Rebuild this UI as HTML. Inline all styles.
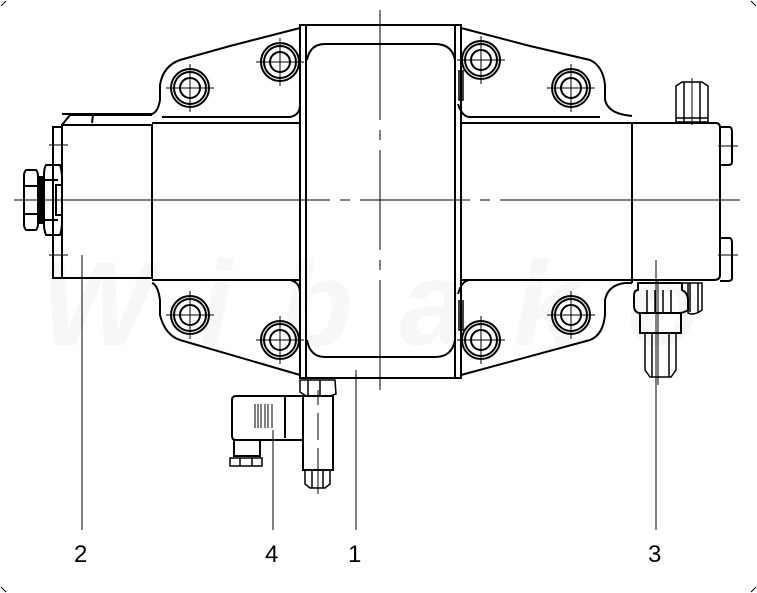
<!DOCTYPE html>
<html><head><style>body{margin:0;background:#fff}svg{display:block}</style></head><body>
<svg width="757" height="593" viewBox="0 0 757 593" xmlns="http://www.w3.org/2000/svg" fill="none" stroke="#000" stroke-width="2" font-family="Liberation Sans, sans-serif">
<path d="M1 6 L6 1 M751 1 L756 6 M1 587 L6 592 M751 592 L756 587" stroke-width="1"/>
<text x="40" y="345" font-size="120" font-weight="bold" font-style="italic" fill="#f7f7f7" stroke="none" textLength="660">Wibako</text>
<path d="M300 28 L230 46 L180 60 Q163 66 160 85 L160 100 Q158 112 152 114 L62 114"/>
<path d="M162 117 L290 117 Q300 115 300 105"/>
<path d="M461 28 L530 46 L590 60 Q603 66 605 85 L605 100 Q608 112 625 115 L632 116"/>
<path d="M458 104 Q462 117 470 117 L600 117"/>
<path d="M152 283 Q158 285 160 300 L160 315 Q165 335 180 340 L300 375"/>
<path d="M162 280 L290 280 Q300 282 300 293"/>
<path d="M461 375 L590 340 Q603 335 605 315 L605 300 Q608 285 625 283 L632 283"/>
<path d="M458 294 Q462 280 470 280 L600 280"/>
<path d="M300 25 L461 25 L461 378 L300 378 Z"/>
<path d="M306 25 L306 378 M455 25 L455 378"/>
<path d="M307 60 Q310 44 325 44 L435 44 Q452 44 455 60"/>
<path d="M307 340 Q310 357 325 357 L435 357 Q452 357 455 340"/>
<path d="M459 70 L459 100 L463 100 L463 70" stroke-width="1.5"/>
<path d="M459 300 L459 330 L463 330 L463 300" stroke-width="1.5"/>
<path d="M62 125 L62 278 L152 278 L152 125 Z"/>
<path d="M62 125 L70 115 L152 115 M93 115 L92 123"/>
<path d="M152 123 L300 123 M152 280 L300 280 M461 123 L632 123 M461 280 L632 280"/>
<path d="M632 123 L632 283"/>
<path d="M632 123 L716 123 Q720 123 720 128 L720 275 Q720 280 714 280 L632 280"/>
<path d="M53 127 L62 127 L62 278 L53 278 Z"/>
<path d="M46 165 L60 165 Q62 170 62 180 L62 220 Q62 230 60 235 L46 235 Q44 230 44 225 L44 175 Q44 168 46 165 Z"/>
<path d="M44 180 L58 180 M44 220 L58 220 M56 185 L62 185 L62 215 L56 215 Z"/>
<path d="M40 176 L40 224 M42 176 L42 224"/>
<path d="M26 170 L36 170 Q38 172 38 176 L38 224 Q38 228 36 230 L26 230 Q24 228 24 224 L24 176 Q24 172 26 170 Z"/>
<path d="M24 186 L38 186 M24 214 L38 214"/>
<path d="M49 145 L68 145 M49 255 L68 255" stroke-width="1"/>
<path d="M720 127 L730 127 Q732 128 732 132 L732 162 Q732 165 728 165 L720 165"/>
<path d="M720 238 L730 238 Q732 239 732 243 L732 278 Q732 281 728 281 L720 281"/>
<path d="M718 146 L738 146 M718 255 L738 255" stroke-width="1"/>
<path d="M676 122 L676 86 L682 82 L702 82 L708 86 L708 122 Z M676 118 L708 118 M684 82 L684 122 M700 82 L700 122" stroke-width="1.5"/>
<path d="M683 283 L688 283 L688 313 Q694 316 702 310 L702 283 Z M690 283 L690 312 M698 283 L698 312" stroke-width="1.5"/>
<path d="M638 283 L682 283 L682 290 Q688 293 688 300 L688 310 Q684 313 678 313 L640 313 Q634 313 634 305 L634 296 Q634 290 638 290 Z"/>
<path d="M647 290 L647 313 M655 290 L655 313 M663 290 L663 313 M671 290 L671 313" stroke-width="1.5"/>
<path d="M640 313 L681 313 L681 333 L640 333 Z"/>
<path d="M645 333 L676 333 L676 370 L671 377 L650 377 L645 370 Z M652 333 L652 377 M669 333 L669 377" stroke-width="1.5"/>
<path d="M300 380 L335 380 L336 394 L330 396 L306 396 L300 392 Z M308 380 L308 396 M320 380 L320 396" stroke-width="1.5"/>
<path d="M303 396 L333 396 L333 470 L303 470 Z"/>
<path d="M305 470 L330 470 L330 484 L325 488 L310 488 L305 484 Z M312 470 L312 488 M323 470 L323 488" stroke-width="1.5"/>
<path d="M236 396 L303 396 L303 440 L236 440 Q232 440 232 436 L232 400 Q232 396 236 396 Z"/>
<path d="M285 396 L285 438"/>
<path d="M234 440 L234 456 L260 456 L260 440"/>
<path d="M230 458 L262 458 L262 466 L230 466 Z M240 458 L240 466 M252 458 L252 466" stroke-width="1.5"/>
<path d="M255 404 L255 428 M258 404 L258 428 M261 404 L261 428 M265 404 L265 428 M268 404 L268 428 M272 404 L272 428" stroke-width="1"/>
<g stroke-width="2">
<circle cx="190" cy="88" r="19"/><circle cx="190" cy="88" r="16"/><circle cx="190" cy="88" r="10"/>
<circle cx="280" cy="62" r="19"/><circle cx="280" cy="62" r="16"/><circle cx="280" cy="62" r="10"/>
<circle cx="481" cy="60" r="19"/><circle cx="481" cy="60" r="16"/><circle cx="481" cy="60" r="10"/>
<circle cx="571" cy="88" r="19"/><circle cx="571" cy="88" r="16"/><circle cx="571" cy="88" r="10"/>
<circle cx="190" cy="315" r="19"/><circle cx="190" cy="315" r="16"/><circle cx="190" cy="315" r="10"/>
<circle cx="280" cy="340" r="19"/><circle cx="280" cy="340" r="16"/><circle cx="280" cy="340" r="10"/>
<circle cx="481" cy="340" r="19"/><circle cx="481" cy="340" r="16"/><circle cx="481" cy="340" r="10"/>
<circle cx="571" cy="315" r="19"/><circle cx="571" cy="315" r="16"/><circle cx="571" cy="315" r="10"/>
</g>
<g stroke-width="1">
<path d="M166 88 L214 88 M190 64 L190 112 M256 62 L304 62 M280 38 L280 86 M457 60 L505 60 M481 36 L481 84 M547 88 L595 88 M571 64 L571 112"/>
<path d="M166 315 L214 315 M190 291 L190 339 M256 340 L304 340 M280 316 L280 364 M457 340 L505 340 M481 316 L481 364 M547 315 L595 315 M571 291 L571 339"/>
<path d="M14 200 L330 200 M340 200 L350 200 M360 200 L470 200 M480 200 L490 200 M500 200 L740 200"/>
<path d="M380 10 L380 120 M380 130 L380 140 M380 150 L380 250 M380 260 L380 270 M380 280 L380 390"/>
<path d="M318 390 L318 405 M318 413 L318 440 M318 448 L318 494"/>
<path d="M658 280 L658 385 M692 78 L692 125"/>
<path d="M82 255 L82 530 M273 430 L273 530 M356 370 L356 530 M656 260 L656 530"/>
</g>
<g fill="#000" stroke="none" font-size="24">
<text x="74" y="562">2</text>
<text x="265" y="562">4</text>
<text x="348" y="562">1</text>
<text x="648" y="562">3</text>
</g>
</svg>
</body></html>
